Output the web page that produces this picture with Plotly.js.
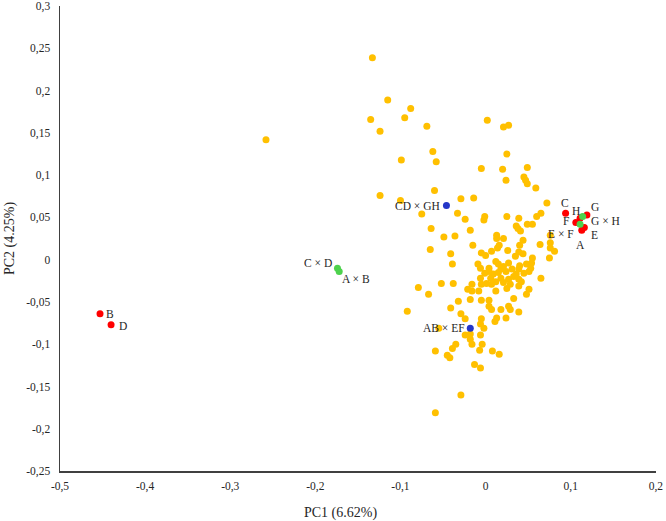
<!DOCTYPE html>
<html>
<head>
<meta charset="utf-8">
<script src="https://cdn.plot.ly/plotly-3.0.1.min.js"></script>
<style>html,body{margin:0;padding:0;background:#fff;}#chart{width:666px;height:521px;}</style>
</head>
<body>
<div id="chart"></div>
<script>
// Progeny (orange) PC1 / PC2 scores
const progenyPC1 = [
-0.133,-0.115,-0.135,-0.095,-0.088,-0.124,-0.258,-0.099,-0.069,0.002,0.021,0.027,-0.062,-0.058,0.025,-0.005,0.020,0.049,0.024,0.045,0.047,0.049,0.059,-0.060,-0.029,-0.014,0.072,-0.100,-0.124,-0.075,-0.064,-0.049,-0.065,-0.079,-0.067,-0.052,-0.092,
-0.033,-0.024,-0.001,-0.002,0.025,0.039,0.060,0.065,-0.036,-0.018,-0.015,0.036,0.038,0.041,0.049,0.055,0.013,0.013,0.021,0.044,0.040,0.064,0.076,0.076,0.081,-0.041,-0.039,-0.005,0.000,0.007,0.014,0.016,0.026,0.039,0.044,0.035,-0.009,-0.006,0.012,0.015,0.021,0.027,0.040,0.048,0.055,0.039,0.053,0.004,0.018,0.076,0.075,0.054,
-0.038,0.004,0.009,-0.006,0.006,0.018,0.024,0.031,0.036,0.039,0.027,0.045,0.051,0.065,-0.016,-0.005,0.007,0.012,0.025,0.039,0.051,0.048,0.033,-0.016,-0.008,-0.021,-0.018,-0.032,-0.005,0.004,-0.041,0.004,0.007,0.018,0.027,0.029,0.039,0.013,0.024,-0.005,-0.029,-0.024,-0.006,
-0.002,0.011,-0.024,-0.018,-0.006,-0.018,-0.016,-0.004,-0.035,-0.039,-0.059,-0.045,-0.042,-0.007,0.008,0.016,-0.013,-0.006,-0.029,-0.059,-0.055,
-0.001,0.015,0.033,0.021,0.042,0.012,0.001,0.029
];
const progenyPC2 = [
0.239,0.189,0.166,0.168,0.179,0.152,0.142,0.118,0.158,0.165,0.157,0.159,0.128,0.116,0.125,0.108,0.107,0.109,0.094,0.098,0.094,0.090,0.085,0.082,0.072,0.073,0.067,0.070,0.076,0.054,0.037,0.027,0.012,-0.033,-0.041,-0.028,-0.061,
0.055,0.048,0.051,0.047,0.051,0.049,0.051,0.055,0.028,0.035,0.017,0.040,0.037,0.034,0.042,0.042,0.029,0.025,0.025,0.023,0.017,0.018,0.020,0.014,0.010,0.007,-0.005,0.008,0.005,0.010,0.014,0.017,0.011,0.009,0.007,0.004,-0.005,-0.010,-0.002,-0.005,-0.008,-0.004,-0.007,-0.005,0.002,-0.011,-0.010,-0.010,-0.011,0.029,0.002,-0.004,
-0.028,-0.014,-0.017,-0.022,-0.022,-0.022,-0.014,-0.011,-0.017,-0.023,-0.023,-0.016,-0.014,-0.022,-0.029,-0.029,-0.029,-0.037,-0.034,-0.031,-0.035,-0.041,-0.046,-0.037,-0.037,-0.035,-0.047,-0.049,-0.048,-0.048,-0.057,-0.055,-0.059,-0.059,-0.055,-0.059,-0.062,-0.069,-0.069,-0.070,-0.064,-0.070,-0.076,
-0.081,-0.073,-0.089,-0.088,-0.089,-0.094,-0.100,-0.100,-0.100,-0.105,-0.108,-0.113,-0.116,-0.107,-0.108,-0.112,-0.124,-0.128,-0.160,-0.181,-0.081,
-0.016,-0.015,-0.020,-0.027,-0.026,-0.026,-0.028,-0.029
];

// Parents (red)
const parentNames = ['B','D','C','H','F','G','E','A'];
const parentPC1 = [-0.453,-0.440,0.094,0.111,0.106,0.119,0.116,0.113];
const parentPC2 = [-0.064,-0.077,0.055,0.049,0.044,0.053,0.038,0.035];

// Single crosses (green)
const singleNames = ['C × D','A × B','G × H','E × F'];
const singlePC1 = [-0.174,-0.172,0.114,0.111];
const singlePC2 = [-0.010,-0.014,0.051,0.042];

// Double crosses (blue)
const doubleNames = ['CD × GH','AB × EF'];
const doublePC1 = [-0.046,-0.018];
const doublePC2 = [0.064,-0.081];

// Axis ticks
const xTickVals = [-0.5,-0.4,-0.3,-0.2,-0.1,0,0.1,0.2];
const xTickText = ['-0,5','-0,4','-0,3','-0,2','-0,1','0','0,1','0,2'];
const yTickVals = [-0.25,-0.2,-0.15,-0.1,-0.05,0,0.05,0.1,0.15,0.2,0.25,0.3];
const yTickText = ['-0,25','-0,2','-0,15','-0,1','-0,05','0','0,05','0,1','0,15','0,2','0,25','0,3'];

// label pixel offsets (style)
const parentShift = [[10,0],[12,-1],[-1,10],[-4,7],[-10,2],[8,8],[10,-7],[-1,-15]];
const singleShift = [[-19,5],[17,-7],[23,-4],[-19,-10]];
const doubleShift = [[-29,0],[-26,0]];

const FONT = '"Liberation Serif", "Times New Roman", serif';
const TXT = '#262626';

const traces = [
  {x: progenyPC1, y: progenyPC2, type:'scatter', mode:'markers',
   marker:{color:'#FFC000', size:7}, hoverinfo:'skip'},
  {x: parentPC1, y: parentPC2, type:'scatter', mode:'markers',
   marker:{color:'#FF0000', size:7}, hoverinfo:'skip'},
  {x: singlePC1, y: singlePC2, type:'scatter', mode:'markers',
   marker:{color:'#4DD24D', size:7}, hoverinfo:'skip'},
  {x: doublePC1, y: doublePC2, type:'scatter', mode:'markers',
   marker:{color:'#2436C8', size:7}, hoverinfo:'skip'}
];

const annotations = [];
function addLabels(names, xs, ys, shifts){
  names.forEach((n,i)=>{
    annotations.push({x: xs[i], y: ys[i], text: n, showarrow:false,
      xshift: shifts[i][0], yshift: shifts[i][1], xanchor:'center', yanchor:'middle',
      font:{family:FONT, size:11.5, color:TXT}});
  });
}
addLabels(parentNames, parentPC1, parentPC2, parentShift);
addLabels(singleNames, singlePC1, singlePC2, singleShift);
addLabels(doubleNames, doublePC1, doublePC2, doubleShift);

// x axis title (placed slightly left of centre as in the reference)
annotations.push({xref:'paper', yref:'paper', x:0.47, y:0, yshift:-42, xanchor:'center', yanchor:'middle',
  showarrow:false, text:'PC1 (6.62%)', font:{family:FONT, size:14, color:TXT}});

const layout = {
  width:666, height:521,
  margin:{l:60, r:10, t:6, b:50},
  paper_bgcolor:'#fff', plot_bgcolor:'#fff',
  showlegend:false,
  font:{family:FONT, size:11, color:TXT},
  xaxis:{range:[-0.5,0.2002], tickvals:xTickVals, ticktext:xTickText,
    showgrid:false, zeroline:false, showline:true, linecolor:'#404040', linewidth:1.5,
    ticks:'', ticklabelstandoff:4, tickfont:{family:FONT, size:11.5, color:TXT}},
  yaxis:{range:[-0.25,0.3002], tickvals:yTickVals, ticktext:yTickText,
    showgrid:false, zeroline:false, showline:true, linecolor:'#404040', linewidth:1.5,
    ticks:'', ticklabelstandoff:6, tickfont:{family:FONT, size:11.5, color:TXT},
    title:{text:'PC2 (4.25%)', font:{family:FONT, size:14, color:TXT}, standoff:8}},
  annotations: annotations,
  hovermode:false
};

Plotly.newPlot('chart', traces, layout, {displayModeBar:false, staticPlot:true});
</script>
</body>
</html>
